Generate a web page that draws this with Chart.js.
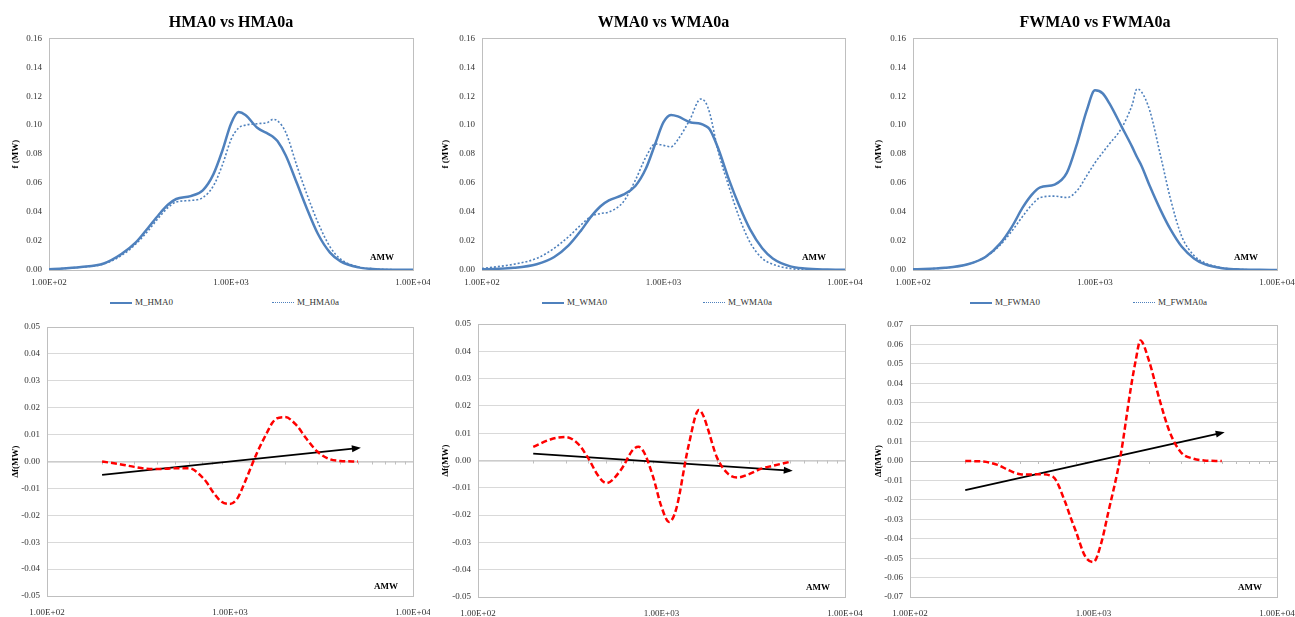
<!DOCTYPE html>
<html>
<head>
<meta charset="utf-8">
<script src="https://cdn.jsdelivr.net/npm/chart.js@4.4.0/dist/chart.umd.min.js"></script>
<style>
  body { margin: 0; background: #fff; width: 1295px; height: 617px; position: relative; overflow: hidden; font-family: 'Liberation Serif', serif; }
  canvas { position: absolute; }
  .leg { position: absolute; top: 296px; height: 12px; font-size: 9px; color: #333; white-space: nowrap; line-height: 12px; }
  .leg span.ln { display: inline-block; width: 22px; vertical-align: middle; margin-right: 3px; }
</style>
</head>
<body>
<canvas id="c1" width="430" height="292" style="left:0;top:0"></canvas>
<canvas id="c2" width="435" height="292" style="left:430px;top:0"></canvas>
<canvas id="c3" width="432" height="292" style="left:863px;top:0"></canvas>
<canvas id="c4" width="430" height="307" style="left:0;top:310px"></canvas>
<canvas id="c5" width="435" height="307" style="left:430px;top:310px"></canvas>
<canvas id="c6" width="432" height="307" style="left:863px;top:310px"></canvas>
<div id="legends"></div>

<script>
// --- DATA ---
const mwTop = [100, 150, 200, 250, 300, 350, 400, 450, 500, 600, 700, 800, 900, 1000, 1100, 1200, 1400, 1600, 1700, 1800, 2000, 2300, 2600, 3000, 3500, 4000, 5000, 6000, 8000, 10000];
const hma0   = [0.0005, 0.002, 0.0045, 0.011, 0.019, 0.029, 0.038, 0.045, 0.049, 0.051, 0.055, 0.066, 0.083, 0.101, 0.109, 0.107, 0.098, 0.094, 0.092, 0.089, 0.079, 0.060, 0.043, 0.025, 0.012, 0.006, 0.0018, 0.0007, 0.0002, 0.0001];
const hma0a  = [0.0005, 0.002, 0.0042, 0.010, 0.018, 0.027, 0.036, 0.043, 0.047, 0.048, 0.050, 0.058, 0.073, 0.090, 0.098, 0.100, 0.101, 0.102, 0.104, 0.103, 0.095, 0.072, 0.053, 0.033, 0.016, 0.0075, 0.0022, 0.0008, 0.0002, 0.0001];
const wma0   = [0.0005, 0.0015, 0.004, 0.009, 0.017, 0.027, 0.037, 0.044, 0.048, 0.052, 0.058, 0.070, 0.087, 0.102, 0.107, 0.106, 0.102, 0.101, 0.0995, 0.097, 0.084, 0.062, 0.045, 0.028, 0.015, 0.008, 0.0025, 0.001, 0.0003, 0.0001];
const wma0a  = [0.001, 0.004, 0.008, 0.015, 0.023, 0.031, 0.037, 0.039, 0.040, 0.047, 0.062, 0.078, 0.087, 0.086, 0.085, 0.090, 0.104, 0.118, 0.116, 0.108, 0.082, 0.057, 0.037, 0.019, 0.008, 0.004, 0.001, 0.0004, 0.0001, 0];
const fwma0  = [0.0005, 0.0015, 0.004, 0.009, 0.018, 0.030, 0.043, 0.052, 0.057, 0.059, 0.067, 0.088, 0.110, 0.124, 0.122, 0.115, 0.099, 0.085, 0.078, 0.072, 0.058, 0.041, 0.028, 0.016, 0.008, 0.004, 0.0012, 0.0005, 0.0001, 0];
const fwma0a = [0.0005, 0.0015, 0.004, 0.009, 0.017, 0.027, 0.037, 0.045, 0.050, 0.051, 0.050, 0.055, 0.065, 0.074, 0.081, 0.087, 0.098, 0.114, 0.125, 0.123, 0.110, 0.078, 0.049, 0.023, 0.010, 0.005, 0.0015, 0.0005, 0.0001, 0];

const mwDiff = [200, 250, 300, 350, 400, 450, 500, 600, 700, 750, 800, 900, 1000, 1100, 1200, 1400, 1600, 1700, 1800, 2000, 2300, 2600, 3000, 3500, 4000, 5000];
const dHma  = [0, -0.001, -0.002, -0.0027, -0.0028, -0.0027, -0.0025, -0.0025, -0.0056, -0.008, -0.011, -0.015, -0.0158, -0.0136, -0.008, 0.003, 0.011, 0.0143, 0.016, 0.0165, 0.0136, 0.0087, 0.0037, 0.0009, 0.0002, 0];
const dWma  = [0.005, 0.0078, 0.0086, 0.0062, 0.0007, -0.0054, -0.0083, -0.0035, 0.004, 0.005, 0.0032, -0.006, -0.017, -0.0225, -0.018, 0.005, 0.0185, 0.016, 0.011, 0.0013, -0.0048, -0.0062, -0.005, -0.003, -0.002, -0.0005];
const dFwma = [0, -0.0003, -0.002, -0.005, -0.0068, -0.007, -0.0068, -0.008, -0.021, -0.029, -0.036, -0.049, -0.052, -0.0425, -0.027, 0.002, 0.038, 0.052, 0.062, 0.052, 0.031, 0.015, 0.0044, 0.0012, 0.0003, 0];

const trendX = [200, 5000];
const trendHma  = [-0.005, 0.005];
const trendWma  = [0.0025, -0.0037];
const trendFwma = [-0.015, 0.0145];

const xTickValues = [100, 1000, 10000];
const minorTicks = [200, 300, 400, 500, 600, 700, 800, 900, 2000, 3000, 4000, 5000, 6000, 7000, 8000, 9000];

const titles = ['HMA0 vs HMA0a', 'WMA0 vs WMA0a', 'FWMA0 vs FWMA0a'];
const seriesNames = [['M_HMA0', 'M_HMA0a'], ['M_WMA0', 'M_WMA0a'], ['M_FWMA0', 'M_FWMA0a']];

const BLUE = '#4F81BD';
const RED = '#FF0000';
const FONT = "'Liberation Serif', 'Times New Roman', serif";

// --- HELPERS ---
const pts = (xs, ys) => xs.map((x, i) => ({ x: x, y: ys[i] }));
function sci(v) {
    const e = Math.round(Math.log10(v));
    return (v / Math.pow(10, e)).toFixed(2) + 'E+' + String(e).padStart(2, '0');
}
const fmt2 = v => Math.abs(v) < 1e-9 ? '0.00' : v.toFixed(2);

// frame round the plot area, AMW note, minor ticks, arrow heads
const extras = {
    id: 'extras',
    beforeDatasetsDraw(chart, args, o) {
        const a = chart.chartArea, ctx = chart.ctx;
        ctx.save();
        if (o.minor) {
            const x = chart.scales.x, y0 = chart.scales.y.getPixelForValue(0);
            ctx.strokeStyle = '#bfbfbf'; ctx.lineWidth = 1;
            ctx.beginPath();
            ctx.moveTo(a.left, y0 + 0.5); ctx.lineTo(a.right, y0 + 0.5);
            minorTicks.forEach(v => {
                const px = Math.round(x.getPixelForValue(v)) + 0.5;
                ctx.moveTo(px, y0); ctx.lineTo(px, y0 + 3);
            });
            ctx.stroke();
        }
        ctx.strokeStyle = '#bfbfbf'; ctx.lineWidth = 1;
        ctx.strokeRect(Math.round(a.left) + 0.5, Math.round(a.top) + 0.5, Math.round(a.width), Math.round(a.height));
        ctx.restore();
    },
    afterDatasetsDraw(chart, args, o) {
        const ctx = chart.ctx, a = chart.chartArea;
        ctx.save();
        chart.data.datasets.forEach((ds, i) => {
            if (!ds.arrow) return;
            const el = chart.getDatasetMeta(i).data;
            const p1 = el[el.length - 2], p2 = el[el.length - 1];
            const ang = Math.atan2(p2.y - p1.y, p2.x - p1.x);
            ctx.fillStyle = ds.borderColor;
            ctx.beginPath();
            ctx.moveTo(p2.x + 3 * Math.cos(ang), p2.y + 3 * Math.sin(ang));
            ctx.lineTo(p2.x - 6 * Math.cos(ang) + 3.5 * Math.sin(ang), p2.y - 6 * Math.sin(ang) - 3.5 * Math.cos(ang));
            ctx.lineTo(p2.x - 6 * Math.cos(ang) - 3.5 * Math.sin(ang), p2.y - 6 * Math.sin(ang) + 3.5 * Math.cos(ang));
            ctx.closePath();
            ctx.fill();
        });
        ctx.fillStyle = '#000';
        ctx.font = 'bold 9px ' + FONT;
        ctx.textAlign = 'center'; ctx.textBaseline = 'middle';
        ctx.fillText('AMW', a.right - o.amwDx, a.bottom - o.amwDy);
        ctx.restore();
    }
};

function xAxis(height, pad) {
    return {
        type: 'logarithmic', min: 100, max: 10000,
        grid: { display: false, drawTicks: false }, border: { display: false },
        afterBuildTicks: s => { s.ticks = xTickValues.map(v => ({ value: v })); },
        afterFit: s => { s.height = height; s.paddingLeft = 0; s.paddingRight = 0; },
        ticks: { autoSkip: false, maxRotation: 0, padding: pad, color: '#333', font: { family: FONT, size: 9 }, callback: v => sci(v) }
    };
}

function yAxis(width, min, max, step, title, grid) {
    return {
        min: min, max: max,
        grid: { display: grid, color: '#d9d9d9', drawTicks: false }, border: { display: false },
        afterFit: s => { s.width = width; s.paddingTop = 0; s.paddingBottom = 0; },
        ticks: { stepSize: step, padding: 7, color: '#333', font: { family: FONT, size: 9 }, callback: v => fmt2(v) },
        title: { display: true, text: title, color: '#000', padding: { top: 10, bottom: 0 }, font: { family: FONT, size: 9, weight: 'bold' } }
    };
}

// --- TOP ROW: distributions ---
const topSets = [[hma0, hma0a], [wma0, wma0a], [fwma0, fwma0a]];
const topLayout = [
    { id: 'c1', yw: 49, padR: 17 },
    { id: 'c2', yw: 52, padR: 20 },
    { id: 'c3', yw: 50, padR: 18 }
];

topLayout.forEach((L, k) => {
    new Chart(document.getElementById(L.id), {
        type: 'line',
        data: { datasets: [
            { label: seriesNames[k][0], data: pts(mwTop, topSets[k][0]), borderColor: BLUE, borderWidth: 2.5, pointRadius: 0, cubicInterpolationMode: 'monotone', fill: false },
            { label: seriesNames[k][1], data: pts(mwTop, topSets[k][1]), borderColor: BLUE, borderWidth: 1.6, borderDash: [2, 2], pointRadius: 0, cubicInterpolationMode: 'monotone', fill: false }
        ]},
        options: {
            responsive: false, animation: false, events: [],
            layout: { padding: { left: 0, right: L.padR, top: 0, bottom: 0 } },
            plugins: {
                legend: { display: false }, tooltip: { enabled: false },
                title: { display: true, fullSize: false, text: titles[k], color: '#000', padding: { top: 13, bottom: 6 }, font: { family: FONT, size: 16, weight: 'bold' } },
                extras: { amwDx: 31, amwDy: 12, minor: false }
            },
            scales: { x: xAxis(22, 7), y: yAxis(L.yw, 0, 0.16, 0.02, 'f (MW)', false) }
        },
        plugins: [extras]
    });
});

// legends under the top charts
const legendPos = [[110, 272], [542, 703], [970, 1133]];
legendPos.forEach((pos, k) => {
    pos.forEach((x, j) => {
        const d = document.createElement('div');
        d.className = 'leg';
        d.style.left = x + 'px';
        const ln = j === 0 ? 'border-top:2.5px solid ' + BLUE : 'border-top:1.5px dotted ' + BLUE;
        d.innerHTML = '<span class="ln" style="' + ln + '"></span>' + seriesNames[k][j];
        document.getElementById('legends').appendChild(d);
    });
});

// --- BOTTOM ROW: differences ---
const diffSets = [[dHma, trendHma], [dWma, trendWma], [dFwma, trendFwma]];
const botLayout = [
    { id: 'c4', yw: 47, padR: 17, padT: 17, xh: 21, lim: 0.05 },
    { id: 'c5', yw: 48, padR: 20, padT: 14, xh: 20, lim: 0.05 },
    { id: 'c6', yw: 47, padR: 18, padT: 15, xh: 20, lim: 0.07 }
];

botLayout.forEach((L, k) => {
    new Chart(document.getElementById(L.id), {
        type: 'line',
        data: { datasets: [
            { label: 'diff', data: pts(mwDiff, diffSets[k][0]), borderColor: RED, borderWidth: 2.5, borderDash: [6, 3], pointRadius: 0, cubicInterpolationMode: 'monotone', fill: false },
            { label: 'trend', data: pts(trendX, diffSets[k][1]), borderColor: '#000', borderWidth: 1.8, pointRadius: 0, fill: false, arrow: true }
        ]},
        options: {
            responsive: false, animation: false, events: [],
            layout: { padding: { left: 0, right: L.padR, top: L.padT, bottom: 0 } },
            plugins: {
                legend: { display: false }, tooltip: { enabled: false }, title: { display: false },
                extras: { amwDx: 27, amwDy: 9, minor: true }
            },
            scales: { x: xAxis(L.xh, 11), y: yAxis(L.yw, -L.lim, L.lim, 0.01, '\u0394f(MW)', true) }
        },
        plugins: [extras]
    });
});
</script>
</body>
</html>
